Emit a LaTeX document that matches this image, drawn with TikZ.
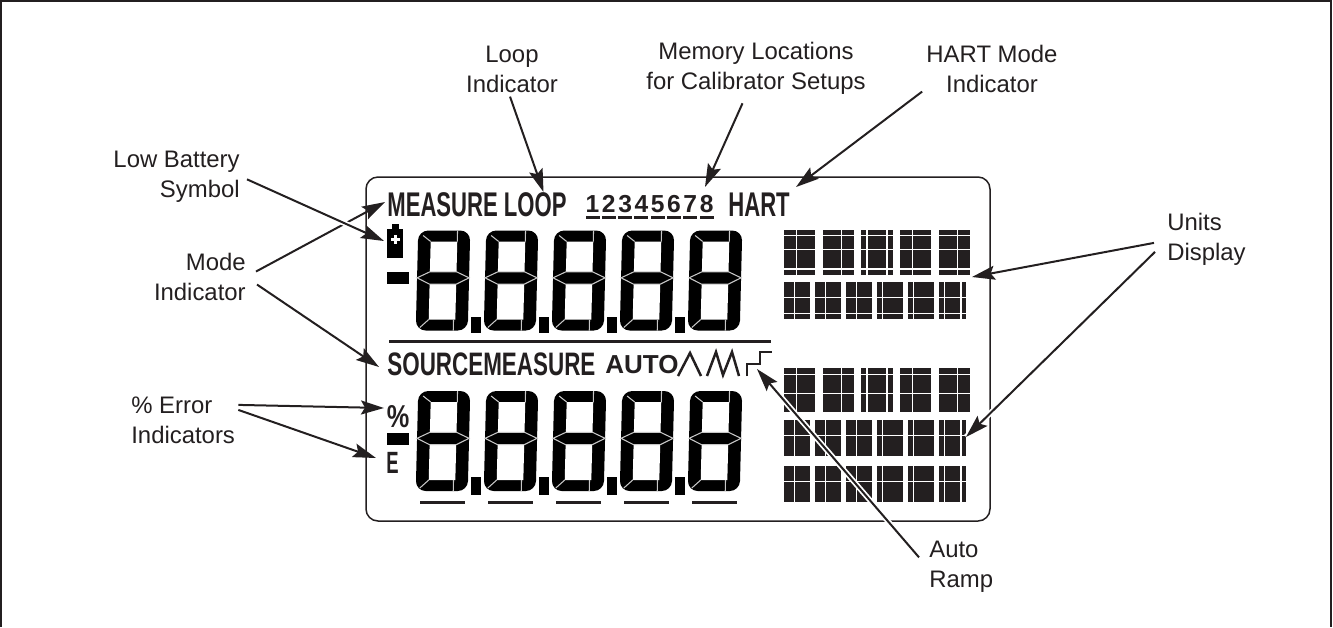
\documentclass[tikz,border=0pt]{standalone}
\usepackage{fontspec}
\setmainfont{Liberation Sans}
\newfontfamily\lcdtall[FakeStretch=0.645]{Liberation Sans}
\newfontfamily\lcdcond[FakeStretch=0.69]{Liberation Sans}
\newfontfamily\lcdpct[FakeStretch=0.80]{Liberation Sans}
\newfontfamily\lcdthin[FakeStretch=0.60]{Liberation Sans}
\usetikzlibrary{calc,arrows.meta}

\definecolor{lcdink}{HTML}{231F20}

\tikzset{
  callout/.style={inner sep=0pt,text=lcdink,font=\fontsize{13.6pt}{17pt}\selectfont},
  pointer/.style={draw=lcdink,line width=0.04cm,-{Stealth[length=4.6mm,width=2.8mm,inset=0.8mm]}},
  cased/.style={pointer,preaction={draw=white,line width=0.11cm,arrows=-,shorten >=#1}},
  lcdtext/.style={inner sep=0pt,anchor=base west,text=lcdink},
  unitgap/.style={draw=white,line width=0.022cm},
  seggap/.style={draw=black!22,line width=0.6pt}
}

% one seven segment digit, origin at its centre
\newcommand{\lcddigit}[2]{
  \begin{scope}[shift={(#1,#2)},xslant=0.025]
    \fill[black,rounded corners=0.2cm] (-26,-50) rectangle (26,50);
    \fill[white] (-13.3,-39) rectangle (13.3,-8.7);
    \fill[white] (-13.3,3.7) rectangle (13.3,39);
    \draw[seggap] (-26,-2.7) -- (-13.3,-8.7) -- (13.3,-8.7) -- (26,-2.7) -- (13.3,3.7) -- (-13.3,3.7) -- cycle;
    \draw[seggap] (-21,-45) -- (-13.3,-39);
    \draw[seggap] (13.3,-50) -- (13.3,-39);
    \draw[seggap] (-22,47) -- (-13.3,39);
    \draw[seggap] (11.5,39) -- (11.5,50);
  \end{scope}
}

\newcommand{\wideblocks}{784/815,823/854,861/893,900/931,939/970}
\newcommand{\narrowblocks}{784/810,815/841,846/872,877/903,908/934,939/966}
\newcommand{\widegaps}{796.3,841.7,867,887,912.7,957.7}
\newcommand{\narrowgaps}{794.3,825.3,856.3,882.3,913.3,944.3,961}

% top, bottom, blocks, vertical gaps, horizontal gaps
\newcommand{\unitrow}[5]{
  \foreach \xa/\xb in #3 { \fill[lcdink] (\xa,#1) rectangle (\xb,#2); }
  \foreach \xv in #4 { \draw[unitgap] (\xv,#1) -- (\xv,#2); }
  \foreach \yh in {#5} { \draw[unitgap] (783,\yh) -- (972,\yh); }
}

\begin{document}
\begin{tikzpicture}[x=0.02cm,y=-0.02cm]
  \useasboundingbox (0,0) rectangle (1333,627);

  \draw[lcdink,line width=0.04cm] (1,627) -- (1,1) -- (1331,1) -- (1331,627);
  \draw[lcdink,line width=0.03cm,rounded corners=0.24cm] (366,177) rectangle (990,521);

  % top row
  \node[lcdtext,font=\lcdtall\bfseries\fontsize{19.5pt}{20pt}\selectfont] (looptext) at (387,216) {MEASURE LOOP};
  \node[lcdtext,font=\lcdtall\bfseries\fontsize{19.5pt}{20pt}\selectfont] (harttext) at (728,216) {HART};
  \foreach \n in {1,...,8} {
    \node[lcdtext,anchor=base,font=\bfseries\fontsize{14pt}{16pt}\selectfont] (mem\n) at ({592.5+(\n-1)*16.3},212) {\n};
    \fill[lcdink] ({585.5+(\n-1)*16.3},216) rectangle ({599.5+(\n-1)*16.3},218.5);
  }

  \fill[black] (387,229) rectangle (403,258);
  \fill[black] (392,224) rectangle (399,230);
  \fill[white] (394,235) rectangle (396.5,244);
  \fill[white] (391,238.2) rectangle (399.5,240.8);
  \fill[black] (387,272) rectangle (409,284);

  \foreach \i in {0,...,4} {
    \lcddigit{443+68*\i}{280.5}
    \lcddigit{443+68*\i}{441}
    \fill[lcdink] ({420+68*\i},501) rectangle ({465+68*\i},504);
  }
  \foreach \i in {0,...,3} {
    \fill[black] ({471+68*\i},317) rectangle ({481+68*\i},333);
    \fill[black] ({471+68*\i},477) rectangle ({481+68*\i},495);
  }
  \fill[lcdink] (389,340) rectangle (771,343);

  % second row
  \node[lcdtext,font=\lcdcond\bfseries\fontsize{18.5pt}{20pt}\selectfont] (sourcetext) at (387,375) {SOURCEMEASURE};
  \node[lcdtext,font=\bfseries\fontsize{14.8pt}{16pt}\selectfont] (autotext) at (605,373) {AUTO};
  \draw[lcdink,line width=0.05cm,line join=miter] (678,376) -- (690,353) -- (701,376);
  \draw[lcdink,line width=0.05cm,line join=miter] (707,376) -- (716,352) -- (723,375) -- (732,352) -- (739,376);
  \draw[lcdink,line width=0.05cm] (747,376) -- (747,364) -- (760,364) -- (760,352) -- (772,352);

  \node[lcdtext,font=\lcdpct\bfseries\fontsize{18pt}{18pt}\selectfont] (pcttext) at (386.5,427) {\%};
  \fill[black] (387,433) rectangle (409,445);
  \node[lcdtext,font=\lcdthin\bfseries\fontsize{17.5pt}{18pt}\selectfont] (etext) at (386,473) {E};

  % units
  \unitrow{230}{275}{\wideblocks}{\widegaps}{235.7,249.3,269}
  \unitrow{282}{319}{\narrowblocks}{\narrowgaps}{297.3,313.7}
  \unitrow{368}{412}{\wideblocks}{\widegaps}{374.3,393.7}
  \unitrow{420}{456}{\narrowblocks}{\narrowgaps}{435.7}
  \unitrow{466}{502}{\narrowblocks}{\narrowgaps}{481.7}

  % labels
  \node[callout,align=center,anchor=base] (loopind) at (512,92) {Loop\\Indicator};
  \node[callout,align=center,anchor=base] (memind) at (756,89) {Memory Locations\\for Calibrator Setups};
  \node[callout,align=center,anchor=base] (hartind) at (992,92) {HART Mode\\Indicator};
  \node[callout,align=right,anchor=base east] (lowbatt) at (240,197) {Low Battery\\Symbol};
  \node[callout,align=right,anchor=base east] (modeind) at (246,300) {Mode\\Indicator};
  \node[callout,align=left,anchor=base west] (errorind) at (131,443) {\% Error\\Indicators};
  \node[callout,align=left,anchor=base west] (unitsind) at (1167,260) {Units\\Display};
  \node[callout,align=left,anchor=base west] (rampind) at (929,587) {Auto\\Ramp};

  \coordinate (looptip) at (543.5,192);
  \coordinate (memtip) at (705,187);
  \coordinate (harttip) at (796,187);
  \coordinate (batttip) at (384,241);
  \coordinate (modetop) at (385,202);
  \coordinate (modelow) at (379,367);
  \coordinate (pcttip) at (384,408);
  \coordinate (etip) at (376,458);
  \coordinate (unittop) at (972,277);
  \coordinate (unitlow) at (966,437);
  \coordinate (ramptip) at (757,369);

  \draw[pointer] ($ (loopind.south) + (-2,4) $) -- (looptip);
  \draw[pointer] ($ (memind.south) + (-13.5,9) $) -- (memtip);
  \draw[pointer] ($ (hartind.south west) + (-4,-1) $) -- (harttip);
  \draw[pointer] ($ (modeind.east) + (10,-5) $) -- (modetop);
  \draw[pointer] ($ (modeind.east) + (11,8) $) -- (modelow);
  \draw[cased=0.6cm] ($ (lowbatt.east) + (7,3) $) -- (batttip);
  \draw[pointer] ($ (errorind.east) + (3,-15) $) -- (pcttip);
  \draw[pointer] ($ (errorind.east) + (3,-10) $) -- (etip);
  \draw[pointer] ($ (unitsind.west) + (-13,4) $) -- (unittop);
  \draw[cased=0cm] ($ (unitsind.west) + (-12,13) $) -- (unitlow);
  \draw[cased=0cm] ($ (rampind.north west) + (-10,17) $) -- (ramptip);
\end{tikzpicture}
\end{document}
